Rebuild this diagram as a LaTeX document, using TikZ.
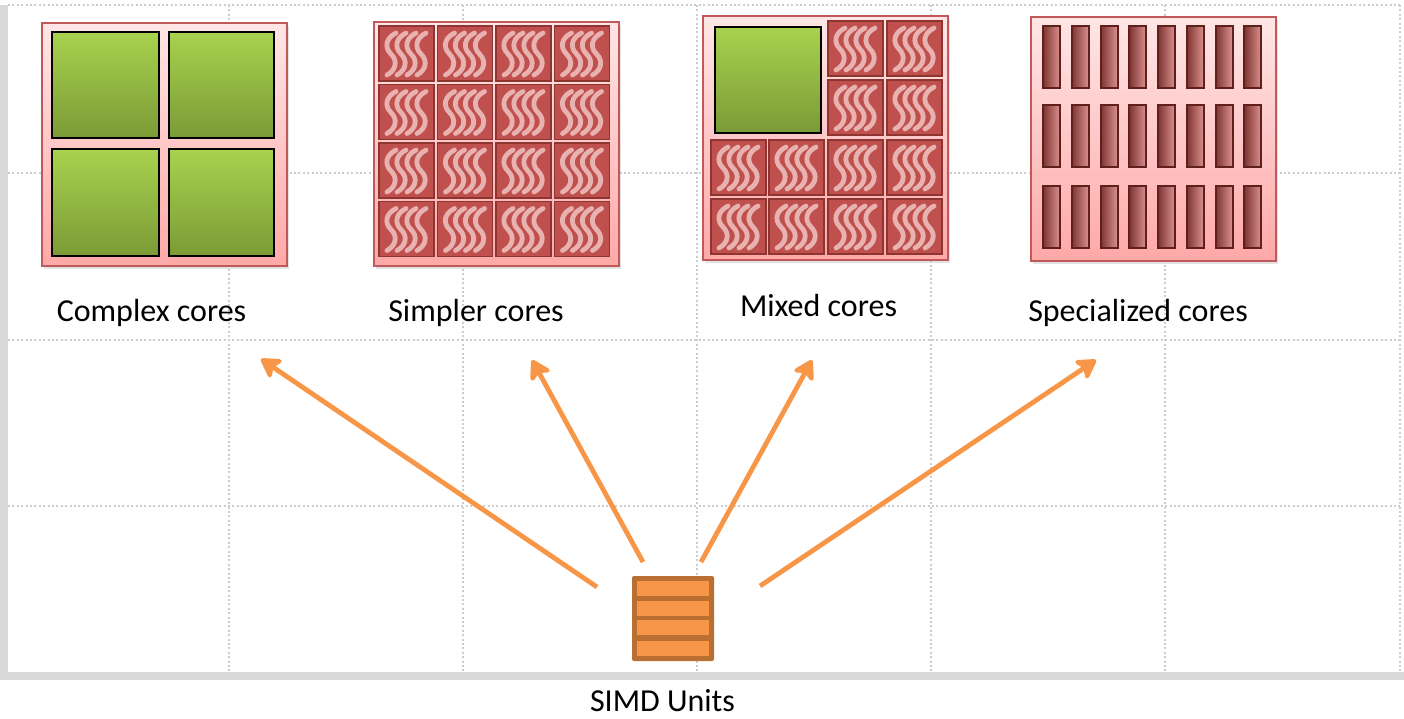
\documentclass[tikz,border=0pt]{standalone}
\usepackage{fontspec}
\setmainfont{Carlito}
\usetikzlibrary{arrows.meta,shadows}

\definecolor{framegray}{HTML}{D9D9D9}
\definecolor{gridgray}{HTML}{CDCDCD}
\definecolor{chiptop}{HTML}{FFE6E6}
\definecolor{chipbot}{HTML}{FFA8A8}
\definecolor{chipedge}{HTML}{C0595A}
\definecolor{greentop}{HTML}{A8D24E}
\definecolor{greenbot}{HTML}{7B9A36}
\definecolor{tilefill}{HTML}{C0504D}
\definecolor{tileedge}{HTML}{8E3431}
\definecolor{wave}{HTML}{ECBDBB}
\definecolor{barleft}{HTML}{7E3532}
\definecolor{barright}{HTML}{DA918F}
\definecolor{baredge}{HTML}{5E1F1D}
\definecolor{simdedge}{HTML}{B96E32}
\definecolor{simdfill}{HTML}{F79646}

\tikzset{
  gridline/.style={draw=gridgray, line width=1.5pt, dash pattern=on 2pt off 2.4pt},
  chip/.style={top color=chiptop, bottom color=chipbot, draw=chipedge, line width=1.3pt,
    drop shadow={opacity=0.22, shadow xshift=2pt, shadow yshift=-3pt}},
  bigcore/.style={top color=greentop, bottom color=greenbot, draw=black, line width=1.8pt},
  barcore/.style={left color=barleft, right color=barright, draw=baredge, line width=2pt},
  lbl/.style={font=\fontsize{32}{38}\selectfont, inner sep=0pt, anchor=base},
  fanout/.style={draw=simdfill, line width=4.8pt,
    -{Stealth[length=23pt, width=27pt, inset=6pt, round]}},
  wtile/.pic={
    \draw[fill=tilefill, draw=tileedge, line width=1.5pt] (0,0) rectangle (55,55);
    \foreach \w in {12,22,32,42}{
      \draw[wave, opacity=0.9, line width=4.8pt, line cap=round]
        (\w+5,7) .. controls (\w-5,12) and (\w-7,21) .. (\w,28)
                 .. controls (\w+7,35) and (\w+5,44) .. (\w-4,49);
    }
  }
}

\begin{document}
\begin{tikzpicture}[x=1pt, y=-1pt]
\useasboundingbox (0,0) rectangle (1404,718);

% page frame and dotted grid
\fill[framegray] (0,5) rectangle (8,680);
\fill[framegray] (0,672) rectangle (1404,680);
\foreach \x in {229,463,697,931,1165,1400}
  \draw[gridline] (\x,5) -- (\x,672);
\foreach \y in {5,173,340,506}
  \draw[gridline] (8,\y) -- (1400,\y);

% complex cores: four large cores
\draw[chip] (42,23) rectangle (287,266);
\draw[bigcore] (52,32) rectangle (159,138);
\draw[bigcore] (169,32) rectangle (274,138);
\draw[bigcore] (52,149) rectangle (159,256);
\draw[bigcore] (169,149) rectangle (274,256);

% simpler cores: 4x4 small cores
\draw[chip] (374,22) rectangle (619,266);
\foreach \i in {0,...,3}
  \foreach \j in {0,...,3}
    \pic at ({379+58.5*\i},{26+58.5*\j}) {wtile};

% mixed cores: one large core plus small cores
\draw[chip] (703,16) rectangle (948,260);
\draw[bigcore] (715,27) rectangle (821,133);
\foreach \cx/\cy in {828/21,887/21,828/80,887/80,
                     711/140,769/140,828/140,887/140,
                     711/199,769/199,828/199,887/199}
  \pic at (\cx,\cy) {wtile};

% specialized cores: 3 rows of 8 narrow units
\draw[chip] (1031,17) rectangle (1276,261);
\foreach \ry in {26,105,186}
  \foreach \k in {0,...,7}
    \draw[barcore] ({1043+28.75*\k},\ry) rectangle ({1060+28.75*\k},{\ry+62});

% captions
\node[lbl] (lcomplex) at (151.5,321) {Complex cores};
\node[lbl] (lsimpler) at (476,321) {Simpler cores};
\node[lbl] (lmixed) at (818.5,316) {Mixed cores};
\node[lbl] (lspecial) at (1138,321) {Specialized cores};

% SIMD unit block
\node[fill=simdedge, rounded corners=2pt, minimum width=82pt, minimum height=85pt,
      inner sep=0pt] (simd) at (673,618.5) {};
\foreach \sy in {581,601,620,641}
  \fill[simdfill] (637,\sy) rectangle (709,\sy+15);
\node[lbl] (lsimd) at (662.5,711) {SIMD Units};

% arrow end points
\coordinate (s1) at (597,587);
\coordinate (s2) at (643,562);
\coordinate (s3) at (701,562);
\coordinate (s4) at (760,586);
\coordinate (t1) at (261,359);
\coordinate (t2) at (532,360);
\coordinate (t3) at (812,360);
\coordinate (t4) at (1096,360);

\draw[fanout] (s1) -- (t1);
\draw[fanout] (s2) -- (t2);
\draw[fanout] (s3) -- (t3);
\draw[fanout] (s4) -- (t4);
\end{tikzpicture}
\end{document}
